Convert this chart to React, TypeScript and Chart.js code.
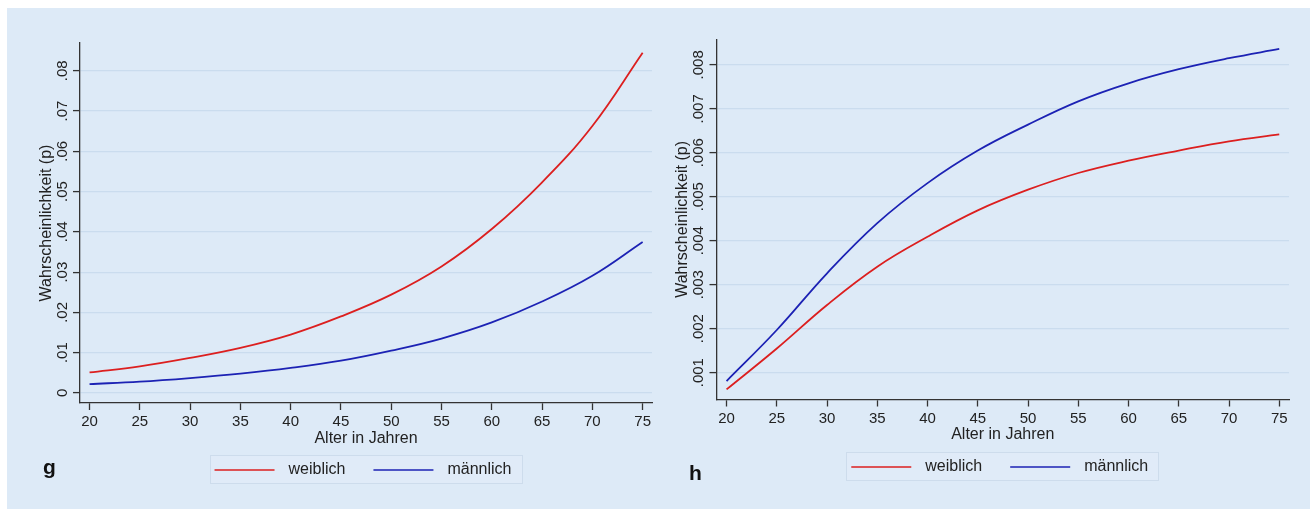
import React, { useEffect, useRef } from 'react';
import { Chart, registerables } from 'chart.js';

Chart.register(...registerables);

// ---------- data ----------
const AGES = [20, 25, 30, 35, 40, 45, 50, 55, 60, 65, 70, 75];

const G_WEIBLICH = [0.0051, 0.0066, 0.0087, 0.0112, 0.0145, 0.019, 0.0244, 0.0314, 0.0407, 0.0523, 0.0663, 0.0845];
const G_MAENNLICH = [0.0022, 0.0028, 0.0037, 0.0048, 0.0062, 0.008, 0.0105, 0.0135, 0.0175, 0.0227, 0.0291, 0.0375];

const H_WEIBLICH = [0.00062, 0.00155, 0.00254, 0.00341, 0.00409, 0.00469, 0.00516, 0.00554, 0.00582, 0.00605, 0.00626, 0.00642];
const H_MAENNLICH = [0.00081, 0.00197, 0.00326, 0.0044, 0.00531, 0.00605, 0.00664, 0.00717, 0.00758, 0.0079, 0.00815, 0.00836];

const X_TICKS = [20, 25, 30, 35, 40, 45, 50, 55, 60, 65, 70, 75];
const G_Y_TICKS = [0, 0.01, 0.02, 0.03, 0.04, 0.05, 0.06, 0.07, 0.08];
const H_Y_TICKS = [0.001, 0.002, 0.003, 0.004, 0.005, 0.006, 0.007, 0.008];

const SERIES_LABELS = ['weiblich', 'männlich'];
const X_TITLE = 'Alter in Jahren';
const Y_TITLE = 'Wahrscheinlichkeit (p)';
const PANEL_LETTERS = ['g', 'h'];

// ---------- style ----------
const FONT = '"Liberation Sans", Arial, Helvetica, sans-serif';
const PANEL_BG = '#ddeaf7';
const GRID = '#cadcee';
const AXIS = '#333333';
const TEXT = '#222222';
const RED = '#dc1f1f';
const BLUE = '#1c22b4';
const LEGEND_FILL = '#e0ebf8';
const LEGEND_BORDER = '#cddcec';

const boxLegend = {
  id: 'boxLegend',
  afterDraw(chart: any) {
    const { ctx, chartArea } = chart;
    const cx = (chartArea.left + chartArea.right) / 2;
    const w = 313;
    const h = 29;
    const left = Math.round(cx - w / 2);
    const top = Math.round(chartArea.bottom + 52);
    ctx.save();
    ctx.fillStyle = LEGEND_FILL;
    ctx.fillRect(left, top, w, h);
    ctx.strokeStyle = LEGEND_BORDER;
    ctx.lineWidth = 1;
    ctx.strokeRect(left + 0.5, top + 0.5, w - 1, h - 1);
    ctx.font = `16px ${FONT}`;
    const items = chart.data.datasets.map((ds: any) => ({
      label: ds.label,
      color: ds.borderColor,
      tw: ctx.measureText(ds.label).width,
    }));
    const lineLen = 60;
    const gapText = 14;
    const gapItem = 28;
    let total = 0;
    items.forEach((it: any, i: number) => {
      total += lineLen + gapText + it.tw + (i ? gapItem : 0);
    });
    let x = cx - total / 2 - 3;
    const y = top + 15;
    items.forEach((it: any, i: number) => {
      if (i) x += gapItem;
      ctx.strokeStyle = it.color;
      ctx.lineWidth = 1.7;
      ctx.beginPath();
      ctx.moveTo(x, y);
      ctx.lineTo(x + lineLen, y);
      ctx.stroke();
      x += lineLen + gapText;
      ctx.fillStyle = TEXT;
      ctx.textBaseline = 'middle';
      ctx.textAlign = 'left';
      ctx.fillText(it.label, x, y);
      x += it.tw;
    });
    ctx.restore();
  },
};

type PanelSpec = {
  weib: number[];
  maenn: number[];
  yTicks: number[];
  decimals: number;
  yMin: number;
  yMax: number;
  xMin: number;
  xMax: number;
  yAxisWidth: number;
  yTitlePad: number;
  yTickPad: number;
  padding: { left: number; right: number; top: number; bottom: number };
};

const G_PANEL: PanelSpec = {
  weib: G_WEIBLICH,
  maenn: G_MAENNLICH,
  yTicks: G_Y_TICKS,
  decimals: 2,
  yMin: -0.0025,
  yMax: 0.0869,
  xMin: 19.05,
  xMax: 75.93,
  yAxisWidth: 80,
  yTitlePad: 36.5,
  yTickPad: 0,
  padding: { left: 0, right: 3, top: 43, bottom: 61 },
};

const H_PANEL: PanelSpec = {
  weib: H_WEIBLICH,
  maenn: H_MAENNLICH,
  yTicks: H_Y_TICKS,
  decimals: 3,
  yMin: 0.00039,
  yMax: 0.00858,
  xMin: 19.0,
  xMax: 75.97,
  yAxisWidth: 61.5,
  yTitlePad: 18,
  yTickPad: -4.2,
  padding: { left: 0, right: 21, top: 39.3, bottom: 64.5 },
};

function buildConfig(p: PanelSpec): any {
  const fmt = (v: number) => (v === 0 ? '0' : v.toFixed(p.decimals).replace(/^0/, ''));
  const line = (label: string, values: number[], color: string) => ({
    label,
    data: AGES.map((a, i) => ({ x: a, y: values[i] })),
    borderColor: color,
    backgroundColor: color,
    borderWidth: 1.8,
    pointRadius: 0,
    tension: 0.4,
    fill: false,
  });
  return {
    type: 'line',
    data: {
      datasets: [line(SERIES_LABELS[0], p.weib, RED), line(SERIES_LABELS[1], p.maenn, BLUE)],
    },
    options: {
      responsive: false,
      animation: false,
      devicePixelRatio: 1,
      layout: { padding: p.padding },
      plugins: {
        legend: { display: false },
        tooltip: { enabled: false },
      },
      scales: {
        x: {
          type: 'linear',
          min: p.xMin,
          max: p.xMax,
          afterBuildTicks: (s: any) => {
            s.ticks = X_TICKS.map((v) => ({ value: v }));
          },
          afterFit: (s: any) => {
            s.height = 45;
          },
          border: { display: true, color: AXIS, width: 1.3 },
          grid: { drawOnChartArea: false, drawTicks: true, tickLength: 7, tickColor: AXIS, tickWidth: 1.3 },
          ticks: {
            font: { family: FONT, size: 15 },
            color: TEXT,
            padding: 3,
            minRotation: 0,
            maxRotation: 0,
            autoSkip: false,
            callback: (v: number) => String(v),
          },
          title: {
            display: true,
            text: X_TITLE,
            font: { family: FONT, size: 16 },
            color: TEXT,
            padding: { top: 0, bottom: 0 },
          },
        },
        y: {
          type: 'linear',
          min: p.yMin,
          max: p.yMax,
          afterBuildTicks: (s: any) => {
            s.ticks = p.yTicks.map((v) => ({ value: v }));
          },
          afterFit: (s: any) => {
            s.width = p.yAxisWidth;
          },
          border: { display: true, color: AXIS, width: 1.3 },
          grid: { color: GRID, lineWidth: 1.2, drawTicks: true, tickLength: 7, tickColor: AXIS, tickWidth: 1.3 },
          ticks: {
            font: { family: FONT, size: 15 },
            color: TEXT,
            minRotation: 90,
            maxRotation: 90,
            crossAlign: 'center',
            padding: p.yTickPad,
            autoSkip: false,
            callback: (v: number) => fmt(v),
          },
          title: {
            display: true,
            text: Y_TITLE,
            font: { family: FONT, size: 16 },
            color: TEXT,
            padding: { top: p.yTitlePad, bottom: 0 },
          },
        },
      },
    },
    plugins: [boxLegend],
  };
}

const letterStyle = (left: number, top: number): React.CSSProperties => ({
  position: 'absolute',
  left,
  top,
  fontFamily: FONT,
  fontWeight: 'bold',
  fontSize: 21,
  lineHeight: '21px',
  color: '#111',
});

export default function App() {
  const gRef = useRef<HTMLCanvasElement>(null);
  const hRef = useRef<HTMLCanvasElement>(null);

  useEffect(() => {
    const c1 = new Chart(gRef.current as HTMLCanvasElement, buildConfig(G_PANEL));
    const c2 = new Chart(hRef.current as HTMLCanvasElement, buildConfig(H_PANEL));
    return () => {
      c1.destroy();
      c2.destroy();
    };
  }, []);

  return (
    <div
      style={{
        position: 'absolute',
        left: 0,
        top: 0,
        width: 1310,
        height: 509,
        background: '#ffffff',
        overflow: 'hidden',
      }}
    >
      <div style={{ position: 'absolute', left: 7, top: 8, right: 0, bottom: 0, background: PANEL_BG }} />
      <canvas
        ref={gRef}
        width={655}
        height={509}
        style={{ position: 'absolute', left: 0, top: 0, width: 655, height: 509 }}
      />
      <canvas
        ref={hRef}
        width={655}
        height={509}
        style={{ position: 'absolute', left: 655, top: 0, width: 655, height: 509 }}
      />
      <div style={letterStyle(43, 456)}>{PANEL_LETTERS[0]}</div>
      <div style={letterStyle(689, 462)}>{PANEL_LETTERS[1]}</div>
    </div>
  );
}
